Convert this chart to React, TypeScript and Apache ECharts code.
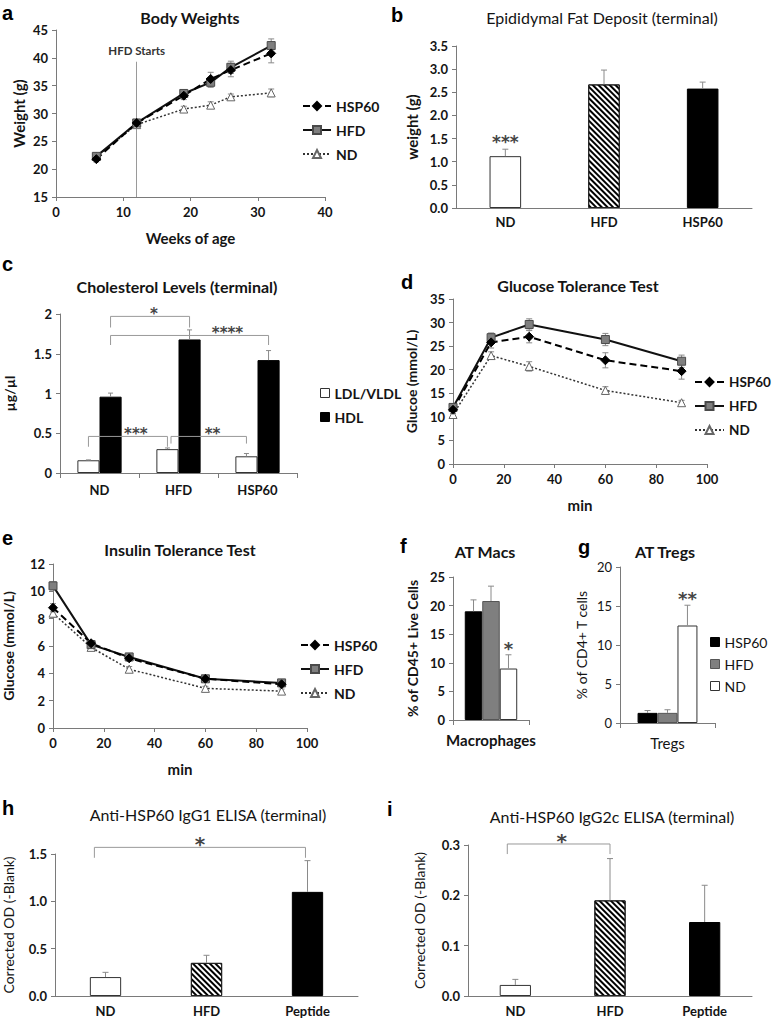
import React, { useEffect, useRef } from "react";
import * as echarts from "echarts";

// ---------------- a: Body Weights ----------------
const weeks = [6, 12, 19, 23, 26, 32];
const bwHSP60 = [21.8, 28.3, 33.2, 36.2, 37.8, 40.8];
const bwHSP60Err = [0.5, 0.6, 0.7, 1.2, 1.2, 1.7];
const bwHFD = [22.3, 28.3, 33.6, 35.6, 38.3, 42.2];
const bwHFDErr = [0.5, 0.6, 0.6, 0.9, 1.1, 1.2];
const bwND = [22.3, 28.0, 30.8, 31.5, 33.0, 33.7];
const bwNDErr = [0.4, 0.6, 0.5, 0.6, 0.5, 0.7];
const hfdStartWeek = 12;
const hfdStartLineTop = 39.3;

// ---------------- b: Epididymal Fat ----------------
const fatCategories = ["ND", "HFD", "HSP60"];
const fatValues = [1.12, 2.67, 2.58];
const fatErrors = [0.15, 0.31, 0.14];
const fatStarCat = [0];
const fatStarY = [1.52];
const fatStarText = ["***"];

// ---------------- c: Cholesterol ----------------
const cholCategories = ["ND", "HFD", "HSP60"];
const ldlValues = [0.16, 0.3, 0.21];
const ldlErrors = [0.005, 0.015, 0.035];
const hdlValues = [0.96, 1.68, 1.42];
const hdlErrors = [0.045, 0.12, 0.12];
const cholSigText = ["*", "****", "***", "**"];
const cholSigFrom = [0, 0, 0, 1];
const cholSigTo = [1, 2, 1, 2];
const cholSigFromSeries = [1, 1, 0, 0]; // 0 = LDL/VLDL, 1 = HDL
const cholSigToSeries = [1, 1, 0, 0];
const cholSigTop = [1.97, 1.73, 0.46, 0.46];
const cholSigDrop = [1.83, 1.61, 0.33, 0.37];

// ---------------- d: Glucose Tolerance Test ----------------
const gttTime = [0, 15, 30, 60, 90];
const gttHSP60 = [11.5, 25.8, 27.0, 22.0, 19.7];
const gttHSP60Err = [0.8, 1.2, 1.3, 1.6, 1.7];
const gttHFD = [12.0, 26.8, 29.6, 26.4, 21.8];
const gttHFDErr = [0.8, 1.0, 1.2, 1.3, 1.3];
const gttND = [10.5, 23.0, 20.7, 15.6, 13.0];
const gttNDErr = [0.8, 0.8, 1.0, 0.8, 0.5];

// ---------------- e: Insulin Tolerance Test ----------------
const ittTime = [0, 15, 30, 60, 90];
const ittHSP60 = [8.8, 6.2, 5.1, 3.6, 3.2];
const ittHSP60Err = [0.3, 0.2, 0.2, 0.15, 0.15];
const ittHFD = [10.4, 6.1, 5.2, 3.6, 3.3];
const ittHFDErr = [0.3, 0.2, 0.2, 0.15, 0.15];
const ittND = [8.4, 5.9, 4.3, 2.9, 2.7];
const ittNDErr = [0.3, 0.2, 0.2, 0.15, 0.15];

// ---------------- f: AT Macs ----------------
const macCategories = ["Macrophages"];
const macHSP60 = [19.0];
const macHSP60Err = [2.0];
const macHFD = [20.8];
const macHFDErr = [2.6];
const macND = [9.0];
const macNDErr = [2.4];
const macStarY = [13.3];
const macStarText = ["*"];

// ---------------- g: AT Tregs ----------------
const tregCategories = ["Tregs"];
const tregHSP60 = [1.3];
const tregHSP60Err = [0.3];
const tregHFD = [1.3];
const tregHFDErr = [0.4];
const tregND = [12.5];
const tregNDErr = [2.6];
const tregStarY = [16.6];
const tregStarText = ["**"];

// ---------------- h: IgG1 ELISA ----------------
const igg1Categories = ["ND", "HFD", "Peptide"];
const igg1Values = [0.2, 0.35, 1.1];
const igg1Errors = [0.05, 0.08, 0.33];
const igg1SigFrom = [0];
const igg1SigTo = [2];
const igg1SigTop = [1.57];
const igg1SigDrop = [1.46];
const igg1SigText = ["*"];

// ---------------- i: IgG2c ELISA ----------------
const igg2Categories = ["ND", "HFD", "Peptide"];
const igg2Values = [0.022, 0.19, 0.147];
const igg2Errors = [0.011, 0.083, 0.073];
const igg2SigFrom = [0];
const igg2SigTo = [1];
const igg2SigTop = [0.302];
const igg2SigDrop = [0.282];
const igg2SigText = ["*"];

// ---------------- styling / layout ----------------
const FONT = "Lato";
const STAR_FONT = "DejaVu Sans";
const AXIS_COLOR = "#7a7a7a";
const TEXT = "#141414";
const ERR_COLOR = "#8a8a8a";

const hatch = {
  symbol: "rect",
  symbolSize: 1,
  color: "#000",
  backgroundColor: "#fff",
  dashArrayX: [1, 0],
  dashArrayY: [2, 2],
  rotation: Math.PI / 4,
};

const whiteBar = { color: "#fff", borderColor: "#333", borderWidth: 1 };
const blackBar = { color: "#000", borderColor: "#000", borderWidth: 1 };
const grayBar = { color: "#7f7f7f", borderColor: "#555", borderWidth: 1 };
const hatchBar = { color: "#fff", borderColor: "#222", borderWidth: 1, decal: hatch };

const LINE_STYLE: Record<string, any> = {
  HSP60: {
    lineStyle: { color: "#000", width: 2, type: [7, 4] },
    symbol: "diamond",
    symbolSize: 9,
    itemStyle: { color: "#000", borderColor: "#000", borderWidth: 1 },
  },
  HFD: {
    lineStyle: { color: "#111", width: 2, type: "solid" },
    symbol: "rect",
    symbolSize: 8,
    itemStyle: { color: "#7f7f7f", borderColor: "#4a4a4a", borderWidth: 1 },
  },
  ND: {
    lineStyle: { color: "#333", width: 1.5, type: [2, 2] },
    symbol: "triangle",
    symbolSize: 8,
    itemStyle: { color: "#fff", borderColor: "#666", borderWidth: 1 },
  },
};

const GRIDS = [
  { left: 56, top: 30, width: 269, height: 167 }, // a
  { left: 456, top: 46, width: 296, height: 162 }, // b
  { left: 60, top: 314, width: 237, height: 159 }, // c
  { left: 453, top: 299, width: 254, height: 165 }, // d
  { left: 53, top: 564, width: 254, height: 164 }, // e
  { left: 453, top: 577, width: 76, height: 143 }, // f
  { left: 620, top: 567, width: 95, height: 156 }, // g
  { left: 55, top: 854, width: 303, height: 142 }, // h
  { left: 468, top: 845, width: 284, height: 151 }, // i
];

const TITLES = [
  { text: "Body Weights", x: 190, y: 9, bold: true },
  { text: "Epididymal Fat Deposit (terminal)", x: 602, y: 9, bold: false },
  { text: "Cholesterol Levels (terminal)", x: 177, y: 278, bold: true },
  { text: "Glucose Tolerance Test", x: 578, y: 277, bold: true },
  { text: "Insulin Tolerance Test", x: 180, y: 541, bold: true },
  { text: "AT Macs", x: 485, y: 543, bold: true },
  { text: "AT Tregs", x: 665, y: 543, bold: true },
  { text: "Anti-HSP60 IgG1 ELISA (terminal)", x: 208, y: 806, bold: false },
  { text: "Anti-HSP60 IgG2c ELISA (terminal)", x: 612, y: 808, bold: false },
];

// baseline positions of the panel letters
const LETTERS = [
  { t: "a", x: 2, y: 18 },
  { t: "b", x: 391, y: 20 },
  { t: "c", x: 2, y: 269 },
  { t: "d", x: 401, y: 287 },
  { t: "e", x: 2, y: 543 },
  { t: "f", x: 400, y: 551 },
  { t: "g", x: 578, y: 552 },
  { t: "h", x: 2, y: 813 },
  { t: "i", x: 387, y: 814 },
];

const cholBarOffset = [-0.14, 0.14];
const cholSigNudge = [0, 0, 0, 0.045];
const cholSigLabelAt = [0.55, 0.74, 0.6, 0.55];
const macOffsets = [-0.23, 0, 0.23];
const tregOffsets = [-0.21, 0, 0.21];

const tickLabel = (bold = true, size = 13) => ({
  color: TEXT,
  fontFamily: FONT,
  fontWeight: bold ? "bold" : "normal",
  fontSize: size,
});
const axisLine = { show: true, lineStyle: { color: AXIS_COLOR, width: 1 } };
const axisTick = { show: true, length: 4, lineStyle: { color: AXIS_COLOR } };

function valueX(grid: number, min: number, max: number, interval: number, name: string) {
  return {
    type: "value",
    gridIndex: grid,
    min,
    max,
    interval,
    splitLine: { show: false },
    axisLine,
    axisTick,
    axisLabel: { ...tickLabel(), margin: 8 },
    name,
    nameLocation: "middle",
    nameGap: 33,
    nameTextStyle: { fontFamily: FONT, fontWeight: "bold", fontSize: 15, color: TEXT },
  };
}

function catX(grid: number, data: string[], ticks: boolean, label: any, margin = 8) {
  return {
    type: "category",
    gridIndex: grid,
    data,
    axisLine,
    axisTick: ticks ? { show: true, length: 5, lineStyle: { color: AXIS_COLOR } } : { show: false },
    axisLabel: { ...label, margin },
    splitLine: { show: false },
  };
}

function valueY(
  grid: number,
  min: number,
  max: number,
  interval: number,
  name: string,
  nameGap: number,
  nameBold: boolean,
  nameSize: number,
  decimals: number | null,
  labelBold = true
) {
  return {
    type: "value",
    gridIndex: grid,
    min,
    max,
    interval,
    splitLine: { show: false },
    axisLine,
    axisTick,
    axisLabel: {
      ...tickLabel(labelBold),
      margin: 8,
      formatter: decimals === null ? undefined : (v: number) => v.toFixed(decimals),
    },
    name,
    nameLocation: "middle",
    nameRotate: 90,
    nameGap,
    nameTextStyle: {
      fontFamily: FONT,
      fontWeight: nameBold ? "bold" : "normal",
      fontSize: nameSize,
      color: TEXT,
    },
  };
}

function errRender(offsets: number[] | number, both: boolean, cap: number) {
  return (params: any, api: any) => {
    const x = api.value(0);
    const y = api.value(1);
    const e = api.value(2);
    const band = api.size([1, 0])[0];
    const off = Array.isArray(offsets) ? offsets[params.dataIndex] : offsets;
    const hi = api.coord([x, y + e]);
    const lo = api.coord([x, both ? y - e : y]);
    const px = hi[0] + off * band;
    const style = { stroke: ERR_COLOR, lineWidth: 1 };
    const children: any[] = [
      { type: "line", shape: { x1: px, y1: hi[1], x2: px, y2: lo[1] }, style },
      { type: "line", shape: { x1: px - cap, y1: hi[1], x2: px + cap, y2: hi[1] }, style },
    ];
    if (both) children.push({ type: "line", shape: { x1: px - cap, y1: lo[1], x2: px + cap, y2: lo[1] }, style });
    return { type: "group", children };
  };
}

function errSeries(grid: number, xs: number[], ys: number[], es: number[], offsets: number[] | number, both: boolean, cap = 3) {
  return {
    type: "custom",
    xAxisIndex: grid,
    yAxisIndex: grid,
    silent: true,
    z: 4,
    data: ys.map((y, i) => [xs[i], y, es[i]]),
    renderItem: errRender(offsets, both, cap),
  };
}

// asterisk glyphs sit high in the em box; shift so the glyph centre lands on the point
const starText = (text: string, x: number, yCentre: number, size: number) => ({
  type: "text",
  x,
  y: yCentre + size * 0.28,
  style: {
    text,
    align: "center",
    verticalAlign: "middle",
    fontFamily: STAR_FONT,
    fontWeight: "bold",
    fontSize: size,
    fill: "#444",
  },
});

function starSeries(grid: number, cats: number[], ys: number[], texts: string[], offset: number, size = 15) {
  return {
    type: "custom",
    xAxisIndex: grid,
    yAxisIndex: grid,
    silent: true,
    z: 5,
    data: ys.map((y, i) => [cats[i], y]),
    renderItem: (params: any, api: any) => {
      const band = api.size([1, 0])[0];
      const p = api.coord([api.value(0), api.value(1)]);
      return starText(texts[params.dataIndex], p[0] + offset * band, p[1], size);
    },
  };
}

function bracketSeries(
  grid: number,
  from: number[],
  to: number[],
  tops: number[],
  drops: number[],
  texts: string[],
  fromOff: (i: number) => number,
  toOff: (i: number) => number,
  labelAt: (i: number) => number,
  size = 15
) {
  return {
    type: "custom",
    xAxisIndex: grid,
    yAxisIndex: grid,
    silent: true,
    z: 5,
    data: tops.map((t, i) => [from[i], to[i], t, drops[i]]),
    renderItem: (params: any, api: any) => {
      const i = params.dataIndex;
      const band = api.size([1, 0])[0];
      const x1 = api.coord([api.value(0), 0])[0] + fromOff(i) * band;
      const x2 = api.coord([api.value(1), 0])[0] + toOff(i) * band;
      const yt = api.coord([0, api.value(2)])[1];
      const yd = api.coord([0, api.value(3)])[1];
      const style = { stroke: "#999", lineWidth: 1, fill: null };
      return {
        type: "group",
        children: [
          { type: "polyline", shape: { points: [[x1, yd], [x1, yt], [x2, yt], [x2, yd]] }, style },
          starText(texts[i], x1 + (x2 - x1) * labelAt(i), yt - size * 0.45, size),
        ],
      };
    },
  };
}

function lineSeries(name: string, grid: number, xs: number[], ys: number[], extra: any = {}) {
  const st = LINE_STYLE[name];
  return {
    type: "line",
    name,
    xAxisIndex: grid,
    yAxisIndex: grid,
    data: xs.map((x, i) => [x, ys[i]]),
    symbol: st.symbol,
    symbolSize: st.symbolSize,
    lineStyle: st.lineStyle,
    itemStyle: st.itemStyle,
    z: 6,
    ...extra,
  };
}

const idx = (arr: any[]) => arr.map((_, i) => i);

function buildOption() {
  const lineLegendText = { fontFamily: FONT, fontWeight: "bold", fontSize: 14, color: TEXT };
  const lineLegend = {
    orient: "vertical",
    itemWidth: 28,
    itemHeight: 10,
    itemGap: 10,
    padding: 0,
    selectedMode: false,
    textStyle: lineLegendText,
    data: ["HSP60", "HFD", "ND"],
  };

  const series: any[] = [
    // a
    lineSeries("ND", 0, weeks, bwND),
    lineSeries("HFD", 0, weeks, bwHFD, {
      markLine: {
        silent: true,
        symbol: "none",
        lineStyle: { color: "#9a9a9a", width: 1, type: "solid" },
        label: {
          show: true,
          position: "end",
          formatter: "HFD Starts",
          distance: 5,
          fontFamily: FONT,
          fontWeight: "bold",
          fontSize: 11.5,
          color: "#333",
        },
        data: [[{ coord: [hfdStartWeek, 15] }, { coord: [hfdStartWeek, hfdStartLineTop] }]],
      },
    }),
    lineSeries("HSP60", 0, weeks, bwHSP60),
    // d
    lineSeries("ND", 3, gttTime, gttND),
    lineSeries("HFD", 3, gttTime, gttHFD),
    lineSeries("HSP60", 3, gttTime, gttHSP60),
    // e
    lineSeries("ND", 4, ittTime, ittND),
    lineSeries("HFD", 4, ittTime, ittHFD),
    lineSeries("HSP60", 4, ittTime, ittHSP60),
    // error bars for line panels
    errSeries(0, weeks, bwND, bwNDErr, 0, true),
    errSeries(0, weeks, bwHFD, bwHFDErr, 0, true),
    errSeries(0, weeks, bwHSP60, bwHSP60Err, 0, true),
    errSeries(3, gttTime, gttND, gttNDErr, 0, true),
    errSeries(3, gttTime, gttHFD, gttHFDErr, 0, true),
    errSeries(3, gttTime, gttHSP60, gttHSP60Err, 0, true),
    errSeries(4, ittTime, ittND, ittNDErr, 0, true),
    errSeries(4, ittTime, ittHFD, ittHFDErr, 0, true),
    errSeries(4, ittTime, ittHSP60, ittHSP60Err, 0, true),

    // b
    {
      type: "bar",
      name: "Fat",
      xAxisIndex: 1,
      yAxisIndex: 1,
      barWidth: "32%",
      data: fatValues.map((v, i) => ({ value: v, itemStyle: [whiteBar, hatchBar, blackBar][i] })),
    },
    errSeries(1, idx(fatValues), fatValues, fatErrors, 0, false),
    starSeries(1, fatStarCat, fatStarY, fatStarText, 0, 17),

    // c
    {
      type: "bar",
      name: "LDL/VLDL",
      xAxisIndex: 2,
      yAxisIndex: 2,
      barWidth: "28%",
      barGap: "0%",
      itemStyle: whiteBar,
      data: ldlValues,
    },
    {
      type: "bar",
      name: "HDL",
      xAxisIndex: 2,
      yAxisIndex: 2,
      barWidth: "28%",
      barGap: "0%",
      itemStyle: blackBar,
      data: hdlValues,
    },
    errSeries(2, idx(ldlValues), ldlValues, ldlErrors, cholBarOffset[0], false, 2.5),
    errSeries(2, idx(hdlValues), hdlValues, hdlErrors, cholBarOffset[1], false, 2.5),
    bracketSeries(
      2,
      cholSigFrom,
      cholSigTo,
      cholSigTop,
      cholSigDrop,
      cholSigText,
      (i) => cholBarOffset[cholSigFromSeries[i]] + cholSigNudge[i],
      (i) => cholBarOffset[cholSigToSeries[i]],
      (i) => cholSigLabelAt[i],
      15
    ),

    // f
    { type: "bar", name: "HSP60", xAxisIndex: 5, yAxisIndex: 5, barWidth: "23%", barGap: "0%", itemStyle: blackBar, data: macHSP60 },
    { type: "bar", name: "HFD", xAxisIndex: 5, yAxisIndex: 5, barWidth: "23%", barGap: "0%", itemStyle: grayBar, data: macHFD },
    { type: "bar", name: "ND", xAxisIndex: 5, yAxisIndex: 5, barWidth: "23%", barGap: "0%", itemStyle: whiteBar, data: macND },
    errSeries(5, [0], macHSP60, macHSP60Err, macOffsets[0], false),
    errSeries(5, [0], macHFD, macHFDErr, macOffsets[1], false),
    errSeries(5, [0], macND, macNDErr, macOffsets[2], false),
    starSeries(5, [0], macStarY, macStarText, macOffsets[2], 18),

    // g
    { type: "bar", name: "HSP60", xAxisIndex: 6, yAxisIndex: 6, barWidth: "21%", barGap: "0%", itemStyle: blackBar, data: tregHSP60 },
    { type: "bar", name: "HFD", xAxisIndex: 6, yAxisIndex: 6, barWidth: "21%", barGap: "0%", itemStyle: grayBar, data: tregHFD },
    { type: "bar", name: "ND", xAxisIndex: 6, yAxisIndex: 6, barWidth: "21%", barGap: "0%", itemStyle: whiteBar, data: tregND },
    errSeries(6, [0], tregHSP60, tregHSP60Err, tregOffsets[0], false),
    errSeries(6, [0], tregHFD, tregHFDErr, tregOffsets[1], false),
    errSeries(6, [0], tregND, tregNDErr, tregOffsets[2], false),
    starSeries(6, [0], tregStarY, tregStarText, tregOffsets[2], 18),

    // h
    {
      type: "bar",
      name: "IgG1",
      xAxisIndex: 7,
      yAxisIndex: 7,
      barWidth: "31%",
      data: igg1Values.map((v, i) => ({ value: v, itemStyle: [whiteBar, hatchBar, blackBar][i] })),
    },
    errSeries(7, idx(igg1Values), igg1Values, igg1Errors, 0, false),
    bracketSeries(7, igg1SigFrom, igg1SigTo, igg1SigTop, igg1SigDrop, igg1SigText, () => -0.11, () => -0.02, () => 0.5, 20),

    // i
    {
      type: "bar",
      name: "IgG2c",
      xAxisIndex: 8,
      yAxisIndex: 8,
      barWidth: "33%",
      data: igg2Values.map((v, i) => ({ value: v, itemStyle: [whiteBar, hatchBar, blackBar][i] })),
    },
    errSeries(8, idx(igg2Values), igg2Values, igg2Errors, 0, false),
    bracketSeries(8, igg2SigFrom, igg2SigTo, igg2SigTop, igg2SigDrop, igg2SigText, () => -0.085, () => 0, () => 0.53, 20),
  ];

  return {
    animation: false,
    backgroundColor: "#fff",
    textStyle: { fontFamily: FONT },
    title: TITLES.map((t) => ({
      text: t.text,
      left: t.x,
      top: t.y,
      textAlign: "center",
      padding: 0,
      textStyle: { fontFamily: FONT, fontSize: 16, fontWeight: t.bold ? "bold" : "normal", color: TEXT },
    })),
    grid: GRIDS.map((g) => ({ ...g, containLabel: false })),
    xAxis: [
      valueX(0, 0, 40, 10, "Weeks of age"),
      catX(1, fatCategories, false, tickLabel(true, 13), 7),
      catX(2, cholCategories, true, tickLabel(true, 13), 10),
      valueX(3, 0, 100, 20, "min"),
      valueX(4, 0, 100, 20, "min"),
      catX(5, macCategories, true, tickLabel(true, 15), 12),
      catX(6, tregCategories, true, tickLabel(false, 15), 12),
      catX(7, igg1Categories, false, tickLabel(true, 13), 8),
      catX(8, igg2Categories, false, tickLabel(true, 13), 8),
    ],
    yAxis: [
      valueY(0, 15, 45, 5, "Weight (g)", 30, true, 15, null),
      valueY(1, 0, 3.5, 0.5, "weight (g)", 37, true, 15, 1),
      valueY(2, 0, 2, 0.5, "µg/µl", 44, true, 14, null),
      valueY(3, 0, 35, 5, "Glucoe (mmol/L)", 35, true, 14, null),
      valueY(4, 0, 12, 2, "Glucose (mmol/L)", 38, true, 14, null),
      valueY(5, 0, 25, 5, "% of CD45+ Live Cells", 34, true, 14, null),
      valueY(6, 0, 20, 5, "% of CD4+ T cells", 32, false, 14, null, false),
      valueY(7, 0, 1.5, 0.5, "Corrected OD (-Blank)", 40, false, 14, 1),
      valueY(8, 0, 0.3, 0.1, "Corrected OD (-Blank)", 42, false, 14, 1),
    ],
    legend: [
      { ...lineLegend, left: 302, top: 99 },
      { ...lineLegend, left: 694, top: 375, itemWidth: 29, textStyle: { ...lineLegendText, fontSize: 13.5 } },
      { ...lineLegend, left: 300, top: 638 },
      {
        orient: "vertical",
        left: 320,
        top: 386,
        itemWidth: 9,
        itemHeight: 9,
        itemGap: 10,
        padding: 0,
        selectedMode: false,
        textStyle: lineLegendText,
        data: [
          { name: "LDL/VLDL", icon: "rect", itemStyle: { color: "#fff", borderColor: "#333", borderWidth: 1 } },
          { name: "HDL", icon: "rect", itemStyle: { color: "#000", borderColor: "#000", borderWidth: 1 } },
        ],
      },
      {
        orient: "vertical",
        left: 710,
        top: 635,
        itemWidth: 9,
        itemHeight: 9,
        itemGap: 8,
        padding: 0,
        selectedMode: false,
        textStyle: { fontFamily: FONT, fontWeight: "normal", fontSize: 14, color: TEXT },
        data: [
          { name: "HSP60", icon: "rect", itemStyle: { color: "#000", borderColor: "#000", borderWidth: 1 } },
          { name: "HFD", icon: "rect", itemStyle: { color: "#7f7f7f", borderColor: "#555", borderWidth: 1 } },
          { name: "ND", icon: "rect", itemStyle: { color: "#fff", borderColor: "#333", borderWidth: 1 } },
        ],
      },
    ],
    graphic: LETTERS.map((l) => ({
      type: "text",
      x: l.x,
      y: l.y - 15,
      silent: true,
      style: {
        text: l.t,
        fontFamily: "Liberation Sans",
        fontWeight: "bold",
        fontSize: 20,
        fill: "#000",
        verticalAlign: "top",
      },
    })),
    series,
  };
}

export default function App() {
  const ref = useRef<HTMLDivElement>(null);
  useEffect(() => {
    if (!ref.current) return;
    const chart = echarts.init(ref.current, undefined, { renderer: "svg" });
    chart.setOption(buildOption() as any);
    return () => chart.dispose();
  }, []);
  return (
    <div
      ref={ref}
      style={{ position: "absolute", left: 0, top: 0, width: 774, height: 1018, background: "#fff" }}
    />
  );
}
